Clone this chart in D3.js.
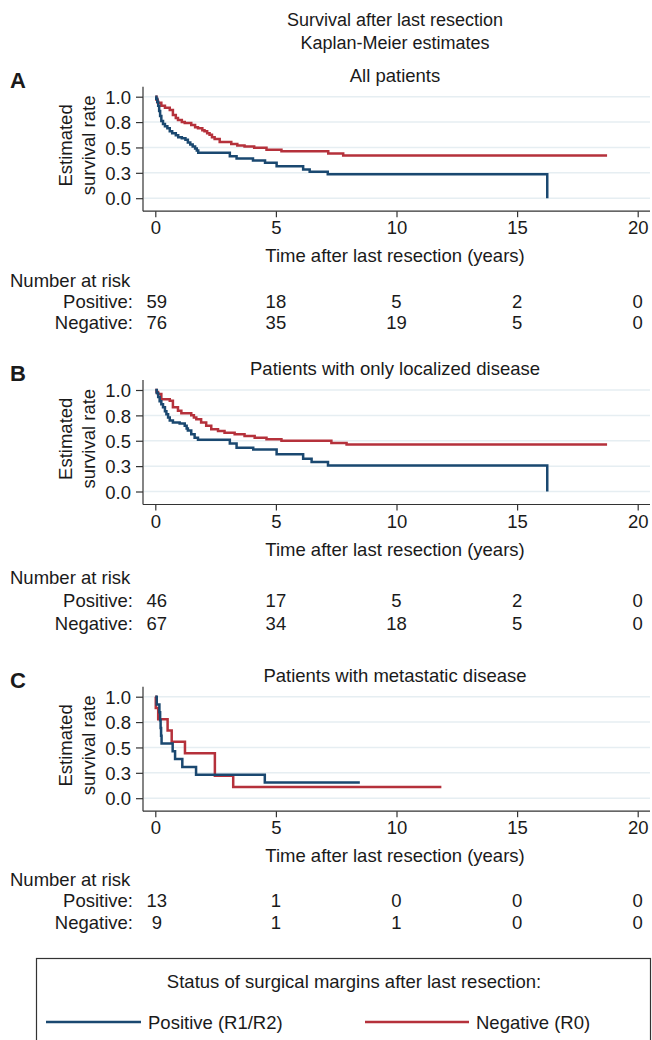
<!DOCTYPE html>
<html>
<head>
<meta charset="utf-8">
<script src="https://cdn.jsdelivr.net/npm/d3@7"></script>
<style>
  body { margin:0; background:#fff; }
  svg text { font-family:"Liberation Sans", Arial, Helvetica, sans-serif; fill:#1a1a1a; }
</style>
</head>
<body>
<div id="chart"></div>
<script>
var svgW = 652,
    svgH = 1040,
    fs = '18.5px';

// data: [years, survival]
var posAll = [[0,1],[0.04,0.98],[0.08,0.95],[0.12,0.91],[0.16,0.86],[0.2,0.81],[0.25,0.76],[0.32,0.73],[0.4,0.71],[0.5,0.69],[0.6,0.66],[0.7,0.64],[0.85,0.62],[0.95,0.6],[1.1,0.59],[1.25,0.575],[1.35,0.55],[1.45,0.53],[1.55,0.51],[1.65,0.49],[1.72,0.47],[1.78,0.447],[3.09,0.413],[3.37,0.391],[4.05,0.371],[4.55,0.349],[5.03,0.316],[6.13,0.283],[6.4,0.261],[7.15,0.235],[16.25,0]];
var negAll = [[0,1],[0.05,0.97],[0.1,0.94],[0.25,0.91],[0.4,0.89],[0.6,0.87],[0.73,0.82],[0.85,0.79],[0.94,0.77],[1.1,0.75],[1.22,0.74],[1.49,0.72],[1.65,0.7],[1.77,0.69],[1.95,0.67],[2.04,0.66],[2.15,0.64],[2.25,0.626],[2.35,0.6],[2.46,0.583],[2.67,0.554],[3.15,0.535],[3.4,0.52],[3.7,0.51],[4.1,0.496],[4.61,0.477],[5.23,0.462],[7.17,0.44],[7.79,0.42],[18.73,0.42]];

var posLoc = [[0,1],[0.06,0.97],[0.12,0.93],[0.18,0.89],[0.25,0.86],[0.32,0.83],[0.4,0.79],[0.46,0.76],[0.53,0.73],[0.6,0.7],[0.73,0.68],[1.01,0.67],[1.22,0.647],[1.3,0.62],[1.35,0.6],[1.49,0.564],[1.63,0.53],[1.77,0.51],[3.09,0.472],[3.37,0.432],[4.06,0.413],[5.03,0.366],[6.13,0.323],[6.48,0.29],[7.16,0.257],[16.25,0]];
var negLoc = [[0,1],[0.05,0.98],[0.11,0.96],[0.25,0.91],[0.6,0.894],[0.73,0.83],[0.94,0.795],[1.08,0.77],[1.49,0.752],[1.6,0.73],[1.7,0.713],[1.9,0.68],[2.11,0.647],[2.32,0.614],[2.6,0.597],[2.87,0.58],[3.29,0.564],[3.7,0.548],[4.12,0.53],[4.61,0.515],[5.23,0.5],[7.3,0.478],[7.93,0.462],[18.73,0.462]];

var posMet = [[0,1],[0.06,0.923],[0.17,0.846],[0.2,0.769],[0.22,0.692],[0.24,0.615],[0.26,0.538],[0.72,0.462],[0.82,0.385],[1.12,0.308],[1.69,0.231],[4.54,0.154],[8.48,0.154]];
var negMet = [[0,1],[0.02,0.889],[0.12,0.778],[0.51,0.667],[0.68,0.556],[1.23,0.444],[2.47,0.222],[3.23,0.111],[11.86,0.111]];

var xTicks = [0,5,10,15,20];
var yTicks = [0,0.25,0.5,0.75,1];
var yTickLabels = ['0.0','0.3','0.5','0.8','1.0'];

var riskAllPos = [59,18,5,2,0],  riskAllNeg = [76,35,19,5,0];
var riskLocPos = [46,17,5,2,0],  riskLocNeg = [67,34,18,5,0];
var riskMetPos = [13,1,0,0,0],   riskMetNeg = [9,1,1,0,0];

var groupLabels = ['Positive (R1/R2)','Negative (R0)'];
var colPos = '#1a4870', colNeg = '#b5313b';

var panels = [
  {letter:'A', title:'All patients', top:96.7, pos:posAll, neg:negAll, rp:riskAllPos, rn:riskAllNeg, nar:[287,308,329]},
  {letter:'B', title:'Patients with only localized disease', top:390, pos:posLoc, neg:negLoc, rp:riskLocPos, rn:riskLocNeg, nar:[584,607,630]},
  {letter:'C', title:'Patients with metastatic disease', top:696.7, pos:posMet, neg:negMet, rp:riskMetPos, rn:riskMetNeg, nar:[886,907,929]}
];

var svg = d3.select('#chart').append('svg')
  .attr('width', svgW).attr('height', svgH);

svg.append('text').attr('x',395).attr('y',26).attr('text-anchor','middle')
  .style('font-size','18px').text('Survival after last resection');
svg.append('text').attr('x',395).attr('y',49).attr('text-anchor','middle')
  .style('font-size','18px').text('Kaplan-Meier estimates');

var x = d3.scaleLinear().domain([0,20]).range([155.3,637.7]);
var plotL = 143, plotR = 650;

panels.forEach(function(p){
  var y = d3.scaleLinear().domain([0,1]).range([p.top+101.5, p.top]);
  var axisY = p.top + 114.5, plotT = p.top - 10;
  var g = svg.append('g');

  g.append('text').attr('x',10).attr('y',p.top-9).style('font-size','22px')
    .style('font-weight','bold').text(p.letter);
  g.append('text').attr('x',395).attr('y',p.top-15).attr('text-anchor','middle')
    .style('font-size',fs).text(p.title);

  // gridlines
  g.selectAll('line.grid').data(yTicks).enter().append('line')
    .attr('x1',plotL+1).attr('x2',plotR)
    .attr('y1',function(d){ return y(d);}).attr('y2',function(d){ return y(d);})
    .style('stroke','#e6eef2').style('stroke-width',1.5);

  // y axis
  var yAxis = d3.axisLeft(y).tickValues(yTicks).tickSize(7).tickPadding(5)
    .tickFormat(function(d,i){ return yTickLabels[i]; });
  var ya = g.append('g').attr('transform','translate('+plotL+',0)').call(yAxis);
  ya.select('.domain').attr('d','M0,'+plotT+'V'+axisY).style('stroke','#333').style('stroke-width',1.2);
  ya.selectAll('.tick line').style('stroke','#333').style('stroke-width',1.2);
  ya.selectAll('.tick text').style('font-size',fs).attr('dy','0.36em');

  // x axis
  var xAxis = d3.axisBottom(x).tickValues(xTicks).tickSize(6).tickPadding(4);
  var xa = g.append('g').attr('transform','translate(0,'+axisY+')').call(xAxis);
  xa.select('.domain').attr('d','M'+plotL+',0H'+plotR).style('stroke','#333').style('stroke-width',1.2);
  xa.selectAll('.tick line').style('stroke','#333').style('stroke-width',1.2);
  xa.selectAll('.tick text').style('font-size',fs);

  g.append('text').attr('x',395).attr('y',axisY+51).attr('text-anchor','middle')
    .style('font-size',fs).text('Time after last resection (years)');

  var midY = y(0.5) - 2;
  g.append('text').attr('transform','translate(72,'+midY+') rotate(-90)')
    .attr('text-anchor','middle').style('font-size',fs).text('Estimated');
  g.append('text').attr('transform','translate(95,'+midY+') rotate(-90)')
    .attr('text-anchor','middle').style('font-size',fs).text('survival rate');

  // curves
  var line = d3.line().curve(d3.curveStepAfter)
    .x(function(d){ return x(d[0]);}).y(function(d){ return y(d[1]);});
  g.append('path').datum(p.neg).attr('d',line).style('fill','none')
    .style('stroke',colNeg).style('stroke-width',2.5);
  g.append('path').datum(p.pos).attr('d',line).style('fill','none')
    .style('stroke',colPos).style('stroke-width',2.5);

  // number at risk
  g.append('text').attr('x',10).attr('y',p.nar[0]).style('font-size',fs).text('Number at risk');
  g.append('text').attr('x',133).attr('y',p.nar[1]).attr('text-anchor','end').style('font-size',fs).text('Positive:');
  g.append('text').attr('x',133).attr('y',p.nar[2]).attr('text-anchor','end').style('font-size',fs).text('Negative:');
  g.selectAll('text.rp').data(p.rp).enter().append('text')
    .attr('x',function(d,i){ return x(xTicks[i]) + (i===0 ? 1.5 : 0);}).attr('y',p.nar[1])
    .attr('text-anchor','middle').style('font-size',fs).text(function(d){ return d;});
  g.selectAll('text.rn').data(p.rn).enter().append('text')
    .attr('x',function(d,i){ return x(xTicks[i]) + (i===0 ? 1.5 : 0);}).attr('y',p.nar[2])
    .attr('text-anchor','middle').style('font-size',fs).text(function(d){ return d;});
});

// legend
var lg = svg.append('g');
lg.append('rect').attr('x',36.5).attr('y',958.5).attr('width',614).attr('height',100)
  .style('fill','none').style('stroke','#333').style('stroke-width',1.2);
lg.append('text').attr('x',354).attr('y',988).attr('text-anchor','middle')
  .style('font-size',fs).text('Status of surgical margins after last resection:');
var legItems = [{x:46, w:95, c:colPos, l:groupLabels[0]},{x:365, w:104, c:colNeg, l:groupLabels[1]}];
legItems.forEach(function(d){
  lg.append('line').attr('x1',d.x).attr('x2',d.x+d.w).attr('y1',1022).attr('y2',1022)
    .style('stroke',d.c).style('stroke-width',2.5);
  lg.append('text').attr('x',d.x+d.w+7).attr('y',1029).style('font-size',fs).text(d.l);
});
</script>
</body>
</html>
